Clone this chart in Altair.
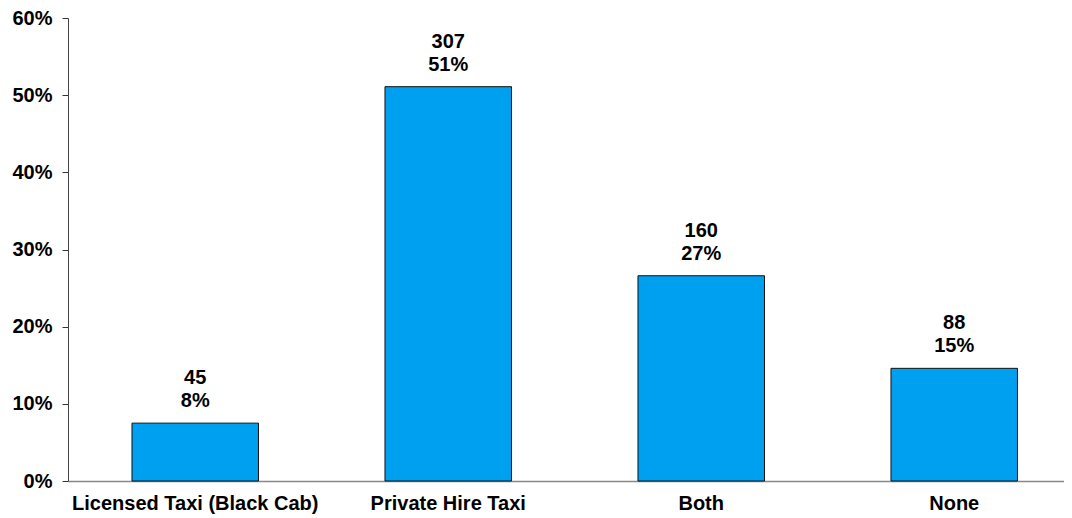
import altair as alt
import pandas as pd

categories = ["Licensed Taxi (Black Cab)", "Private Hire Taxi", "Both", "None"]
counts = [45, 307, 160, 88]
shares = [0.075, 0.511, 0.266, 0.146]
pct_labels = ["8%", "51%", "27%", "15%"]

df = pd.DataFrame({
    "cat": categories,
    "share": shares,
    "count": [str(c) for c in counts],
    "pct": pct_labels,
})

FONT = "Liberation Sans"
FS = 20

x = alt.X("cat:N", sort=categories, title=None,
          scale=alt.Scale(paddingInner=0.5, paddingOuter=0.2184, align=0.579),
          axis=alt.Axis(labelAngle=0, ticks=False, labelPadding=12, labelFontSize=FS,
                        labelFontWeight="bold", labelFont=FONT, labelColor="#000",
                        labelLimit=0, domainColor="#888", domainWidth=1.5))
y = alt.Y("share:Q", title=None,
          scale=alt.Scale(domain=[0, 0.6], nice=False),
          axis=alt.Axis(format=".0%", values=[0, 0.1, 0.2, 0.3, 0.4, 0.5, 0.6], grid=False,
                        tickSize=6, tickColor="#333", domainColor="#444", labelPadding=10,
                        labelFontSize=FS, labelFontWeight="bold", labelFont=FONT,
                        labelColor="#000"))

xs = alt.X("cat:N", sort=categories)
bars = alt.Chart(df).mark_bar(color="#00A0F0", stroke="#111", strokeWidth=1).encode(x=x, y=y)
pct_text = alt.Chart(df).mark_text(baseline="middle", dy=-22, fontSize=FS, fontWeight="bold",
                                   font=FONT, color="#000").encode(
    x=xs, y="share:Q", text="pct:N")
cnt_text = alt.Chart(df).mark_text(baseline="middle", dy=-45, fontSize=FS, fontWeight="bold",
                                   font=FONT, color="#000").encode(
    x=xs, y="share:Q", text="count:N")

chart = (bars + pct_text + cnt_text).properties(
    width=996, height=463,
    autosize=alt.AutoSizeParams(type="none"),
    padding={"left": 60, "top": 10, "right": 0, "bottom": 37},
).configure_view(stroke=None)

chart.save("out.html", embed_options={"renderer": "svg", "actions": False})
